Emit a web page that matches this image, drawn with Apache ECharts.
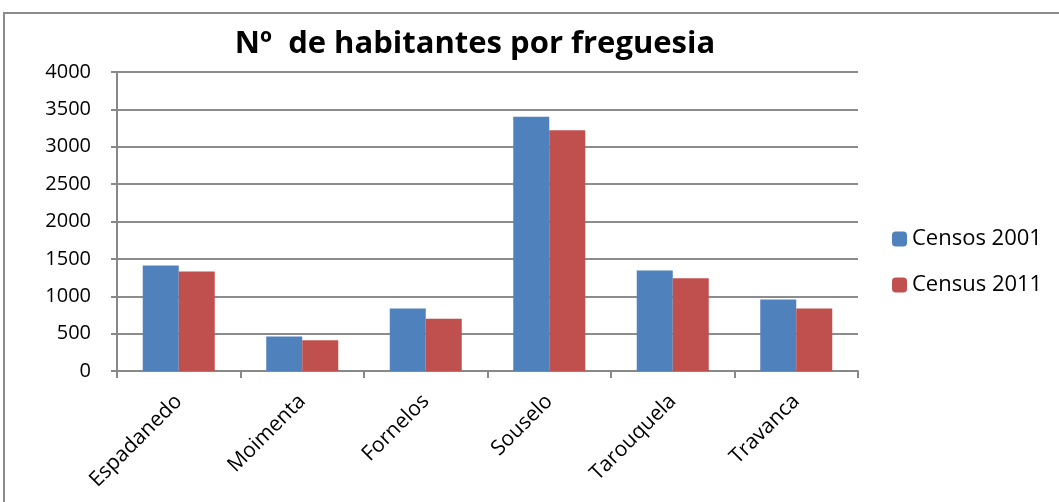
<!DOCTYPE html>
<html lang="pt">
<head>
    <meta charset="UTF-8">
    <title>Nº de habitantes por freguesia</title>
    <script src="https://cdn.jsdelivr.net/npm/echarts@6/dist/echarts.min.js"></script>
</head>
<style>
    *{
        margin: 0;
        padding: 0;
    }
    html , body{
        width: 1059px;
        height: 502px;
        background: #fff;
    }
    .container{
        width: 1059px;
        height: 502px;
    }
</style>
<body>
<div class="container"></div>
<script>
    let freguesias = ['Espadanedo', 'Moimenta', 'Fornelos', 'Souselo', 'Tarouquela', 'Travanca'];
    let censos2001 = [1410, 460, 835, 3400, 1345, 955];
    let census2011 = [1330, 410, 700, 3220, 1240, 835];
    let yTicks = [0, 500, 1000, 1500, 2000, 2500, 3000, 3500, 4000];

    let mycharts = echarts.init(document.querySelector('.container'));
    let font = 'Open Sans';

    let options = {
        backgroundColor: '#fff',
        animation: false,
        title: {
            text: 'Nº  de habitantes por freguesia',
            left: 470,
            top: 24,
            textAlign: 'center',
            textStyle: {
                fontFamily: font,
                fontWeight: 'bold',
                fontSize: 31,
                color: '#000'
            }
        },
        graphic: [{
            type: 'rect',
            shape: {x: 4, y: 13, width: 1060, height: 500},
            style: {fill: 'none', stroke: '#8c8c8c', lineWidth: 2}
        }],
        legend: {
            data: ['Censos 2001', 'Census 2011'],
            orient: 'vertical',
            left: 887,
            top: 223,
            itemWidth: 15,
            itemHeight: 15,
            itemGap: 24,
            textStyle: {fontFamily: font, fontSize: 22, color: '#000'}
        },
        grid: {
            left: 117,
            right: 201,
            top: 72,
            bottom: 131,
            containLabel: false
        },
        xAxis: {
            type: 'category',
            data: freguesias,
            axisLine: {lineStyle: {color: '#888', width: 2}},
            axisTick: {show: true, length: 7, lineStyle: {color: '#888', width: 2}},
            axisLabel: {
                rotate: 45,
                margin: 27,
                fontFamily: font,
                fontSize: 21,
                color: '#000'
            }
        },
        yAxis: {
            type: 'value',
            min: 0,
            max: 4000,
            interval: 500,
            axisLine: {show: true, lineStyle: {color: '#888', width: 2}},
            axisTick: {show: true, length: 6, lineStyle: {color: '#888', width: 2}},
            axisLabel: {
                margin: 26,
                fontFamily: font,
                fontSize: 20,
                color: '#000',
                formatter: v => yTicks.includes(v) ? String(v) : ''
            },
            splitLine: {lineStyle: {color: '#8c8c8c', width: 2}}
        },
        series: [{
            name: 'Censos 2001',
            type: 'bar',
            data: censos2001,
            barGap: '0%',
            barCategoryGap: '41.7%',
            itemStyle: {color: '#4f81bd'}
        }, {
            name: 'Census 2011',
            type: 'bar',
            data: census2011,
            barGap: '0%',
            barCategoryGap: '41.7%',
            itemStyle: {color: '#c0504d'}
        }]
    };

    mycharts.setOption(options);
</script>
</body>
</html>
